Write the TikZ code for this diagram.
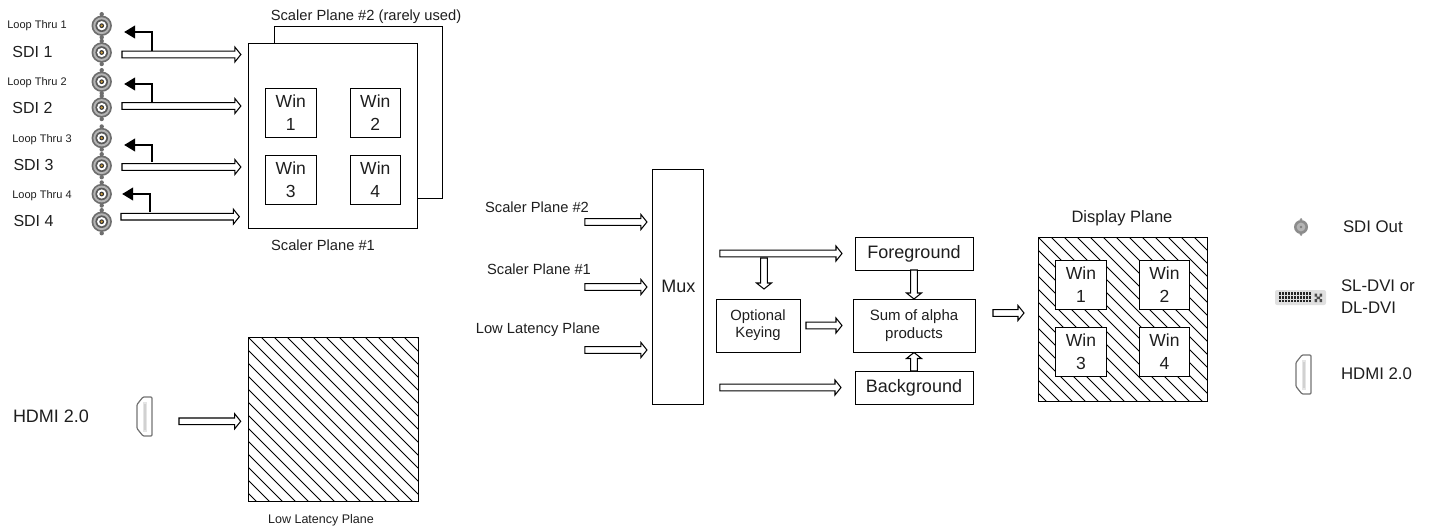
\documentclass[tikz,border=0pt]{standalone}
\usepackage{fontspec}
\setmainfont{Liberation Sans}
\usetikzlibrary{calc,arrows.meta}
\definecolor{ink}{HTML}{1E1E1E}
\definecolor{gA}{HTML}{6E6E6E}
\definecolor{gB}{HTML}{B4B4B4}
\definecolor{gC}{HTML}{5A5A5A}
\definecolor{gold}{HTML}{C89A3C}
\newcommand{\fs}[1]{\fontsize{#1}{#1}\selectfont}
\tikzset{
  x=1pt,y=-1pt,
  every node/.style={inner sep=0pt,outer sep=0pt,text=ink},
  box/.style={draw=black,line width=1pt,fill=white,align=center},
  win/.style={box,minimum width=50.5pt,minimum height=49pt,font=\fontsize{17.5}{23}\selectfont},
  lab/.style={align=center},
  holl/.style={draw=black,fill=white,line width=1.05pt,miter limit=4,
    to path={($(\tikztostart)!3.3pt!90:(\tikztotarget)$)
      -- ($(\tikztotarget)!6pt!(\tikztostart)!3.3pt!90:(\tikztotarget)$)
      -- ($(\tikztotarget)!6pt!(\tikztostart)!7.5pt!90:(\tikztotarget)$)
      -- (\tikztotarget)
      -- ($(\tikztotarget)!6pt!(\tikztostart)!7.5pt!-90:(\tikztotarget)$)
      -- ($(\tikztotarget)!6pt!(\tikztostart)!3.3pt!-90:(\tikztotarget)$)
      -- ($(\tikztostart)!3.3pt!-90:(\tikztotarget)$) -- cycle}},
  blk/.style={draw=black,line width=1.3pt,-{Triangle[length=11pt,width=13pt]}},
  hatchln/.style={draw=black,line width=.85pt},
  port/.style={circle,minimum size=20pt},
  bnc/.pic={
    \fill[gA] (0,-11.5) circle (2.2) (0,11.5) circle (2.2);
    \fill[gA] (0,0) circle (10.2);
    \fill[gB] (0,0) circle (8.4);
    \fill[gC] (0,0) circle (6.3);
    \fill[white] (0,0) circle (4.6);
    \fill[black!80] (0,0) circle (2.4);
    \fill[gold] (0,0) circle (1.3);
  },
  bncsmall/.pic={
    \fill[gray!85] (0,-7.6) circle (1.4) (0,7.6) circle (1.4);
    \fill[gray!90] (0,0) circle (7);
    \fill[gB] (0,0) circle (4.4);
    \fill[gray] (0,0) circle (1.4);
  },
  hdmi/.pic={
    \fill[black!10] (-1.5,-15) rectangle (2.5,15);
    \fill[black!18] (-.2,-13) rectangle (1.2,13);
    \draw[gray!90!black,line width=1.2pt,line join=round,rounded corners=1pt]
      (-1.5,-19.5) -- (-7.5,-12) -- (-7.5,12) -- (-1.5,19.5) -- (7.5,19.5) -- (7.5,-19.5) -- cycle;
  },
}
\begin{document}
\begin{tikzpicture}
\useasboundingbox (0,0) rectangle (1437,531);

% ---- scaler planes
\draw[draw=black,line width=1pt] (274,43) -- (274,26.7) -- (442,26.7) -- (442,198.7) -- (417,198.7);
\node[box,minimum width=168.5pt,minimum height=185pt] (pa) at (332.8,135.5) {};
\node[win] (wa) at (290.8,112.5) {Win\\1};
\node[win] (wb) at (375.3,112.5) {Win\\2};
\node[win] (wc) at (290.8,179.5) {Win\\3};
\node[win] (wd) at (375.3,179.5) {Win\\4};
\node[lab,font=\fs{14.7}] (tpb) at (366,17) {Scaler Plane \#2 (rarely used)};
\node[lab,font=\fs{14.7}] (tpa) at (323,245) {Scaler Plane \#1};

% ---- connectors
\node[port] (la) at (101.7,25.7) {};
\node[port] (sa) at (101.7,52.5) {};
\node[port] (lb) at (101.7,81.7) {};
\node[port] (sb) at (101.7,107.5) {};
\node[port] (lc) at (101.7,138) {};
\node[port] (sc) at (101.7,165.7) {};
\node[port] (ld) at (101.7,194) {};
\node[port] (sd) at (101.7,221.7) {};
\foreach \n in {la,sa,lb,sb,lc,sc,ld,sd} \pic at (\n) {bnc};

\node[lab,font=\fs{11}] (tla) at (37,26) {Loop Thru 1};
\node[lab,font=\fs{11}] (tlb) at (37,83) {Loop Thru 2};
\node[lab,font=\fs{11}] (tlc) at (42,140) {Loop Thru 3};
\node[lab,font=\fs{11}] (tld) at (42,196) {Loop Thru 4};
\node[anchor=west,font=\fs{16}] (tsa) at (12.5,52) {SDI 1};
\node[anchor=west,font=\fs{16}] (tsb) at (12.5,108) {SDI 2};
\node[anchor=west,font=\fs{16}] (tsc) at (13.5,165) {SDI 3};
\node[anchor=west,font=\fs{16}] (tsd) at (13.5,221) {SDI 4};

\draw[blk] ([xshift=50.3pt,yshift=1.5pt]sa.center) |- ([xshift=12.5pt,yshift=-6.3pt]la.east);
\draw[blk] ([xshift=50.3pt,yshift=5.5pt]sb.center) |- ([xshift=12.5pt,yshift=-2.3pt]lb.east);
\draw[blk] ([xshift=50.3pt,yshift=3.7pt]sc.center) |- ([xshift=12.5pt,yshift=-7pt]lc.east);
\draw[blk] ([xshift=48.3pt,yshift=9.7pt]sd.center) |- ([xshift=10.5pt,yshift=0pt]ld.east);

\path[holl] ([xshift=10.3pt,yshift=-2pt]sa.east) to ([xshift=-7.7pt,yshift=81pt]pa.west);
\path[holl] ([xshift=10.3pt,yshift=1.5pt]sb.east) to ([xshift=-7.7pt,yshift=29.5pt]pa.west);
\path[holl] ([xshift=10.3pt,yshift=-1.3pt]sc.east) to ([xshift=-7.7pt,yshift=-31.5pt]pa.west);
\path[holl] ([xshift=9.3pt,yshift=5pt]sd.east) to ([xshift=-9.2pt,yshift=-81.2pt]pa.west);

% ---- low latency plane
\node[box,minimum width=170pt,minimum height=164pt] (ll) at (333,419) {};
\begin{scope}
  \clip (ll.south west) rectangle (ll.north east);
  \foreach \k in {-14,...,14} \draw[hatchln] ({248+\k*13},337) -- ++(180,180);
\end{scope}
\draw[draw=black,line width=1pt] (ll.south west) rectangle (ll.north east);
\node[lab,font=\fs{12.5}] (tll) at (321,520) {Low Latency Plane};
\node[anchor=west,font=\fs{18}] (thl) at (13,416) {HDMI 2.0};
\node[minimum width=15pt,minimum height=39pt] (hl) at (144.5,416.5) {};
\pic at (hl) {hdmi};
\path[holl] ([xshift=27pt,yshift=-4.8pt]hl.east) to ([xshift=-7.3pt,yshift=-2.3pt]ll.west);

% ---- mux section
\node[box,minimum width=50.7pt,minimum height=235pt,font=\fs{18}] (mux) at (678.3,286.5) {Mux};
\node[lab,font=\fs{14.7}] (tma) at (537,207) {Scaler Plane \#2};
\node[lab,font=\fs{14.7}] (tmb) at (539,269) {Scaler Plane \#1};
\node[lab,font=\fs{14.7}] (tmc) at (538,330) {Low Latency Plane};
\path[holl] ([xshift=-68pt,yshift=64.5pt]mux.west) to ([xshift=-6pt,yshift=64.5pt]mux.west);
\path[holl] ([xshift=-68pt,yshift=-.5pt]mux.west) to ([xshift=-6pt,yshift=-.5pt]mux.west);
\path[holl] ([xshift=-68pt,yshift=-63.5pt]mux.west) to ([xshift=-6pt,yshift=-63.5pt]mux.west);

\node[box,minimum width=118pt,minimum height=33pt,font=\fs{18}] (fg) at (914,253.5) {Foreground};
\node[box,minimum width=118pt,minimum height=33pt,font=\fs{18}] (bg) at (914,387.5) {Background};
\node[box,minimum width=122pt,minimum height=53pt,font=\fontsize{15}{18}\selectfont] (sum) at (914,325.5) {Sum of alpha\\products};
\node[box,minimum width=84pt,minimum height=53pt,font=\fontsize{14.8}{17.3}\selectfont] (key) at (758,325.5) {Optional\\Keying};

\path[holl] ([xshift=16.3pt]mux.east |- fg.west) to ([xshift=-13pt]fg.west);
\path[holl] ([xshift=16.3pt]mux.east |- bg.west) to ([xshift=-14pt]bg.west);
\path[holl] ([xshift=6pt,yshift=41pt]key.north) to ([xshift=6pt,yshift=10pt]key.north);
\path[holl] ([xshift=6pt]key.east) to ([xshift=-11pt]sum.west);
\path[holl] (fg.south) to (sum.north);
\path[holl] (bg.north) to ([yshift=-.5pt]sum.south);

% ---- display plane
\node[box,minimum width=169pt,minimum height=164pt] (dp) at (1122.5,319) {};
\begin{scope}
  \clip (dp.south west) rectangle (dp.north east);
  \foreach \k in {-14,...,14} \draw[hatchln] ({1038+\k*13},237) -- ++(180,180);
\end{scope}
\draw[draw=black,line width=1pt] (dp.south west) rectangle (dp.north east);
\node[win] (da) at (1081,284.5) {Win\\1};
\node[win] (db) at (1164.5,284.5) {Win\\2};
\node[win] (dc) at (1081,352) {Win\\3};
\node[win] (dd) at (1164.5,352) {Win\\4};
\node[lab,font=\fs{16.5}] (tdp) at (1122,218) {Display Plane};
\path[holl] ([xshift=18pt,yshift=12.5pt]sum.east) to ([xshift=49pt,yshift=12.5pt]sum.east);

% ---- legend
\node[port,minimum size=14pt] (ko) at (1301,227) {};
\pic at (ko) {bncsmall};
\node[anchor=west,font=\fs{16.8}] (tko) at (1343,227) {SDI Out};

\node[minimum width=51pt,minimum height=15pt] (kd) at (1300.5,297.5) {};
\fill[black!12,rounded corners=2pt] (kd.north west) rectangle (kd.south east);
\foreach \r in {0,1,2} \foreach \c in {0,...,10}
  \fill[black!85] ({1278.5+\c*3},{292.3+\r*3.6}) rectangle ++(2.5,2.9);
\fill[black!70] (1314.5,293.5) rectangle ++(2.5,3) (1314.5,299) rectangle ++(2.5,3)
                (1319.5,293.5) rectangle ++(2.5,3) (1319.5,299) rectangle ++(2.5,3)
                (1316.5,296.5) rectangle (1320,299);
\node[anchor=west,align=left,font=\fontsize{16.8}{22}\selectfont] (tkd) at (1341,297) {SL-DVI or\\DL-DVI};

\node[minimum width=15pt,minimum height=39pt] (kh) at (1303.5,374.5) {};
\pic at (kh) {hdmi};
\node[anchor=west,font=\fs{16.8}] (tkh) at (1341,374) {HDMI 2.0};
\end{tikzpicture}
\end{document}
